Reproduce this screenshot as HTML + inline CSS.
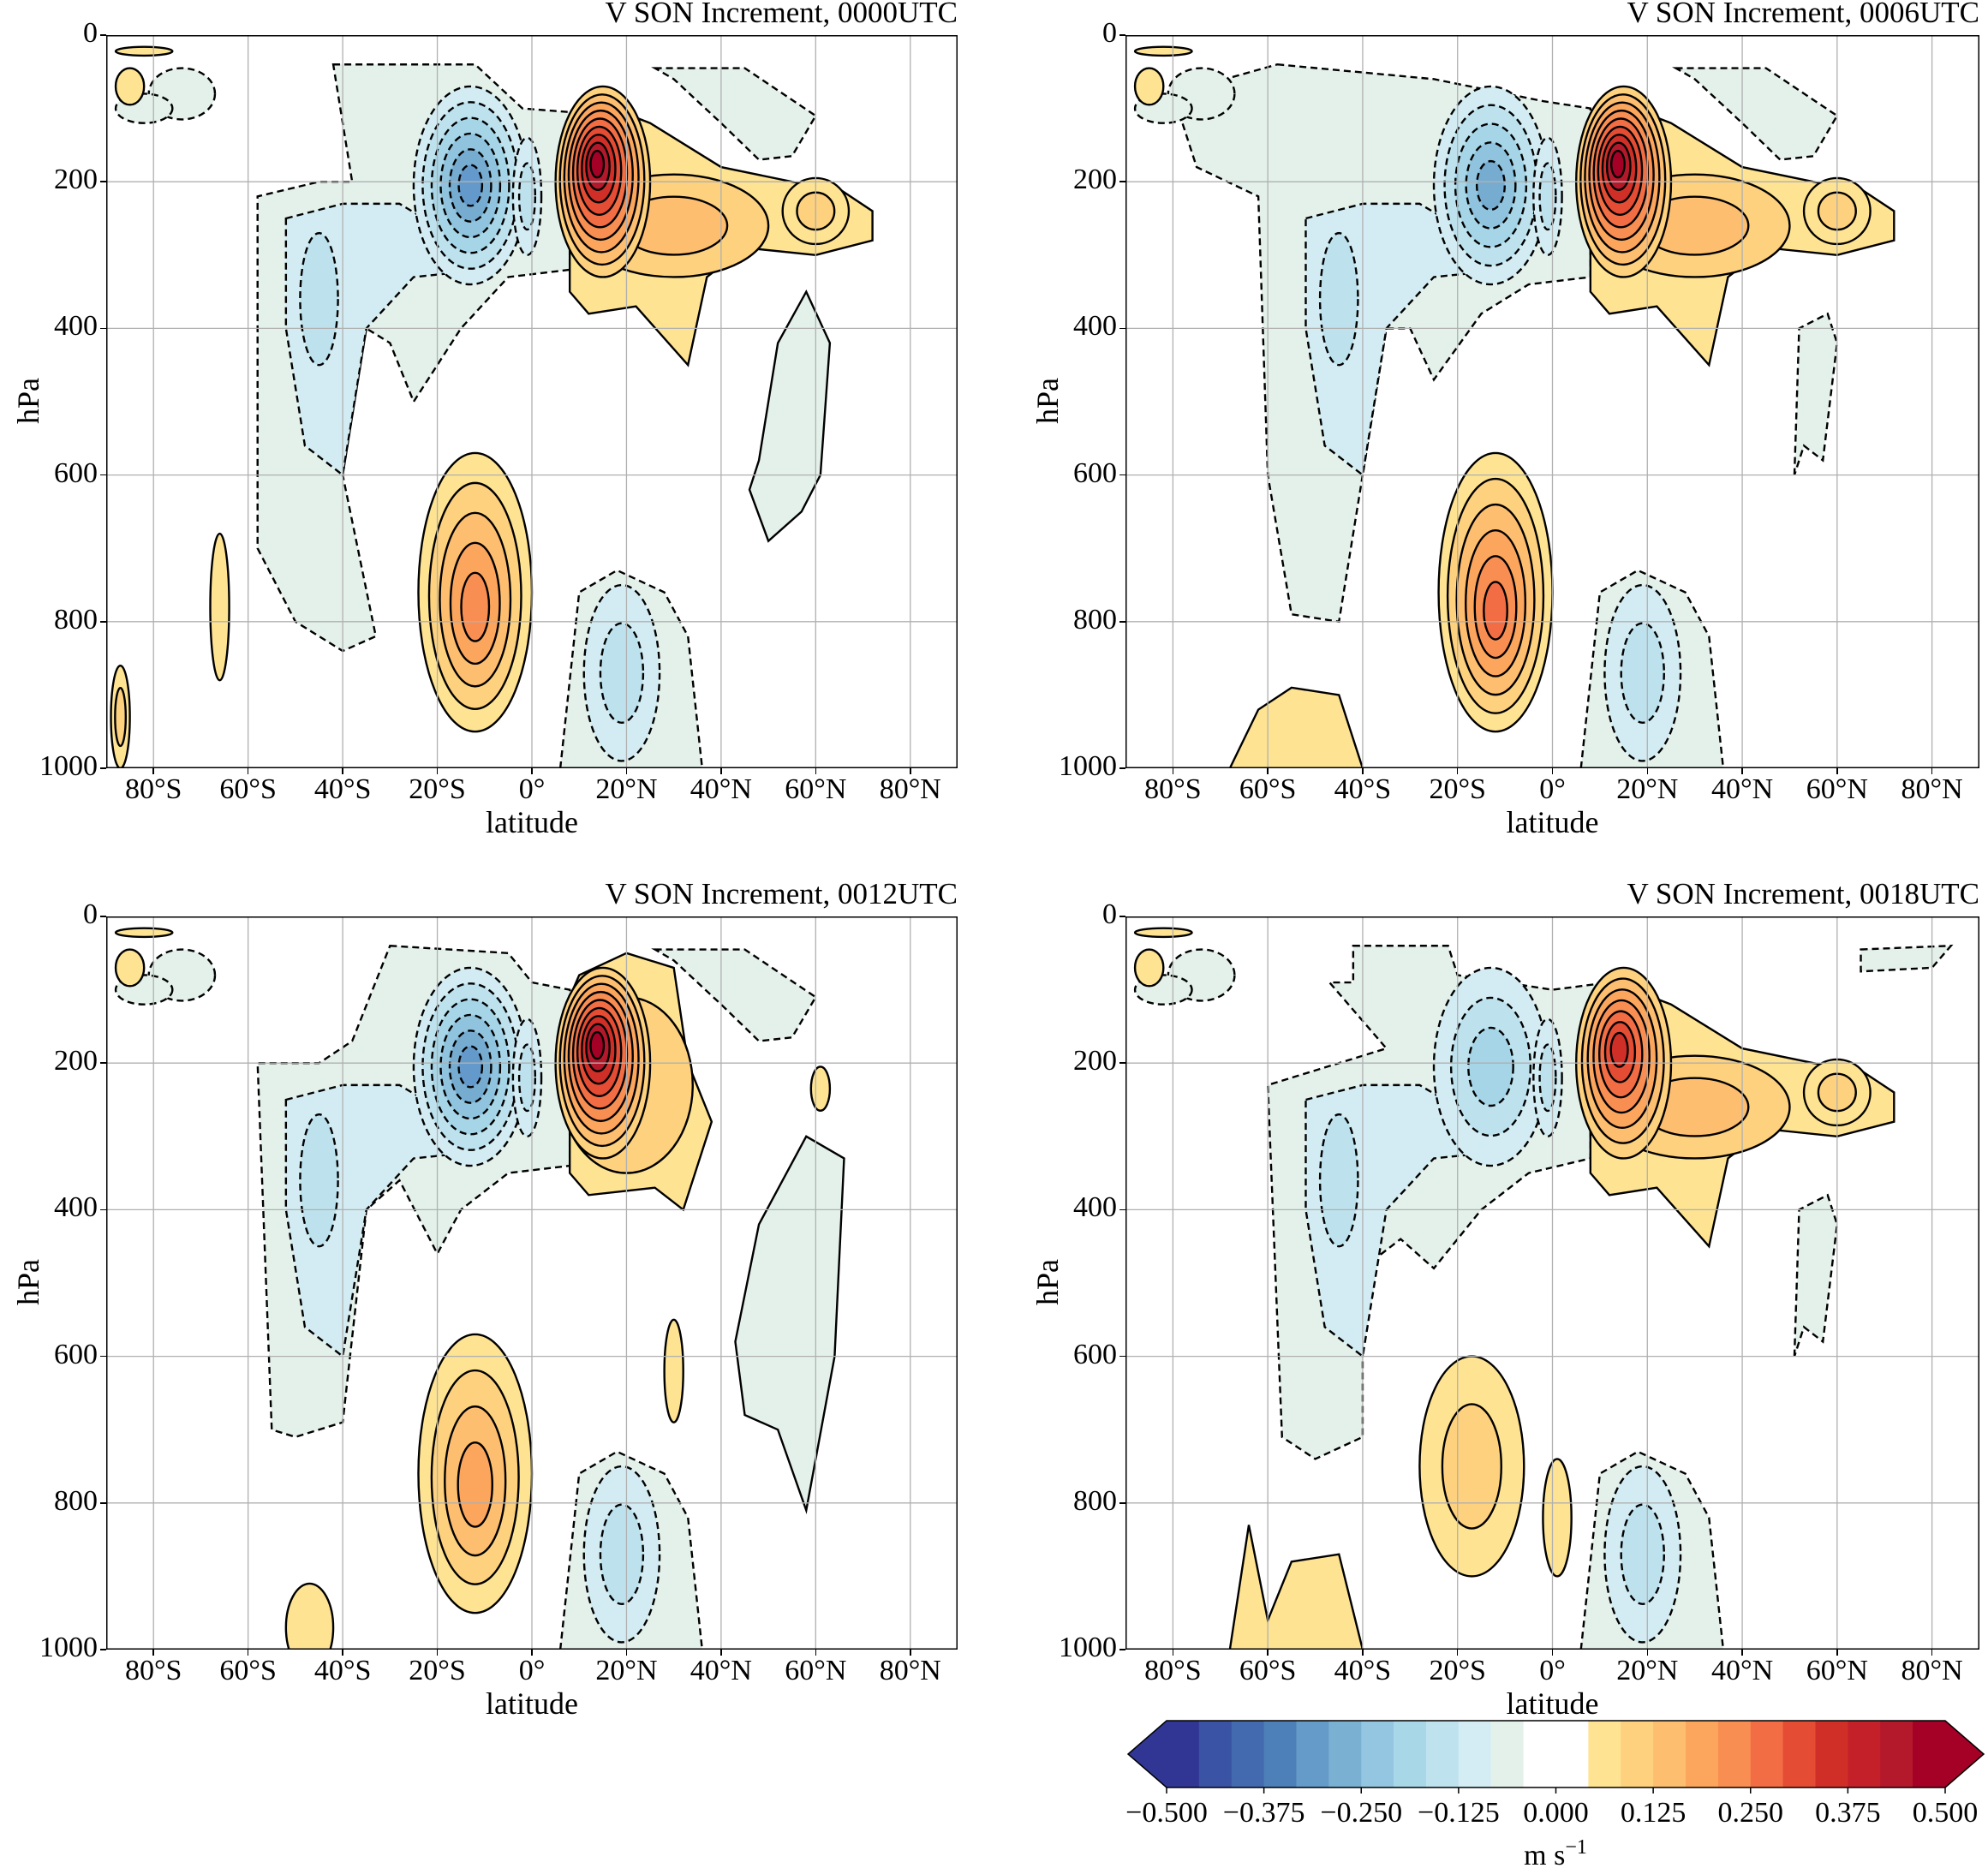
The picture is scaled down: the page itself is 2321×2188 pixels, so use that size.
<!DOCTYPE html>
<html><head><meta charset="utf-8"><style>
body{margin:0;background:#fff;width:2321px;height:2188px;position:relative;overflow:hidden;font-family:"Liberation Serif",serif;}
.t{position:absolute;color:#000;white-space:nowrap;}
</style></head><body>
<div id="root"></div>
<script>
const NEG=['#e3f1ea','#d3ecf3','#bde2ee','#a6d5e7','#90c3dd','#77acd1','#649acb','#4f7fb8','#4268ac'];
const POS=['#fee393','#fdd17e','#fdbe70','#fca55d','#f98e52','#f26d44','#e44c33','#d02f27','#b3182b','#a50026'];
const panels=[
 {x:124,y:41,w:994,h:856,title:'V SON Increment, 0000UTC',v:0},
 {x:1314,y:41,w:997,h:856,title:'V SON Increment, 0006UTC',v:1},
 {x:124,y:1070,w:994,h:856,title:'V SON Increment, 0012UTC',v:2},
 {x:1314,y:1070,w:997,h:856,title:'V SON Increment, 0018UTC',v:3}];
function poly(pts,fill,dash){return `<path d="M${pts.map(p=>p.join(',')).join(' L')} Z" fill="${fill}" stroke="#000" stroke-width="2.4" vector-effect="non-scaling-stroke" ${dash?'stroke-dasharray="8,5"':''}/>`;}
function stack(cx,cy,rx,ry,cols,dash,dx,dy){let s='';const n=cols.length;dx=dx||0;dy=dy||0;
 for(let i=0;i<n;i++){const f=1-i/(n+0.3);s+=`<ellipse cx="${cx+dx*i}" cy="${cy+dy*i}" rx="${rx*f}" ry="${ry*f}" fill="${cols[i]}" stroke="#000" stroke-width="2.4" vector-effect="non-scaling-stroke" ${dash?'stroke-dasharray="8,5"':''}/>`;}return s;}
function common(v){
 let s='';
 let negBig=[[-42,40],[-12,40],[-2,100],[8,105],[8,320],[-5,330],[-15,400],[-25,500],[-30,420],[-35,400],[-40,600],[-33,820],[-40,840],[-50,800],[-58,700],[-58,220],[-45,200],[-38,200]];
 if(v==1)negBig=[[-58,40],[-25,60],[-2,90],[8,100],[8,330],[-5,340],[-15,380],[-25,470],[-30,400],[-35,400],[-45,800],[-55,790],[-60,600],[-62,220],[-75,180],[-80,80]];
 if(v==2)negBig=[[-30,40],[-5,50],[0,90],[8,100],[8,340],[-5,350],[-15,400],[-20,460],[-28,360],[-35,400],[-40,690],[-50,710],[-55,700],[-58,200],[-45,200],[-38,170]];
 if(v==3)negBig=[[-42,40],[-22,40],[-20,80],[0,100],[12,90],[8,120],[8,330],[-5,350],[-15,400],[-25,480],[-32,440],[-40,480],[-40,710],[-50,740],[-57,710],[-60,230],[-45,200],[-35,180],[-47,90],[-42,90]];
 s+=poly(negBig,NEG[0],true);
 s+=poly([[-52,250],[-40,230],[-28,230],[-15,280],[-5,300],[-10,320],[-25,330],[-35,400],[-40,600],[-48,560],[-52,400]],NEG[1],true);
 s+=stack(-45,360,4,90,[NEG[2]],true);
 s+=stack(-13,205,12,135,NEG.slice(1,v==3?4:(v==1?6:7)),true);
 s+=stack(-1,220,3,80,NEG.slice(1,3),true);
 let pos=[[8,110],[15,95],[25,120],[40,180],[55,200],[65,210],[72,240],[72,280],[60,300],[45,290],[37,330],[33,450],[22,370],[12,380],[8,350]];
 if(v==2)pos=[[8,110],[10,80],[20,50],[30,70],[33,200],[38,280],[32,400],[26,370],[12,380],[8,350]];
 s+=poly(pos,POS[0],false);
 if(v!=2)s+=stack(30,260,20,70,POS.slice(1,3),false);
 if(v!=2)s+=stack(60,240,7,45,POS.slice(0,2),false);
 if(v==2)s+=stack(20,230,14,120,[POS[1]],false);
 s+=stack(15,200,10,130,POS.slice(1,v==3?8:10),false,-0.15,-3);
 if(v==3){s+=stack(-17,750,11,150,POS.slice(0,2),false);s+=stack(1,820,3,80,[POS[0]],false);
   s+=poly([[-68,1000],[-64,830],[-60,960],[-55,880],[-45,870],[-40,1000]],POS[0],false);}
 else s+=stack(-12,760,12,190,POS.slice(0,v==2?4:(v==1?6:5)),false,0,5);
 if(v==1)s+=poly([[-68,1000],[-62,920],[-55,890],[-45,900],[-40,1000]],POS[0],false);
 if(v==2){s+=stack(-47,970,5,60,[POS[0]],false);s+=stack(30,620,2,70,[POS[0]],false);s+=stack(61,235,2,30,[POS[0]],false);}
 s+=poly([[6,1000],[10,760],[18,730],[28,760],[33,820],[36,1000]],NEG[0],true);
 s+=stack(19,870,8,120,NEG.slice(1,3),true);
 if(v==0)s+=poly([[48,580],[52,420],[58,350],[63,420],[61,600],[57,650],[50,690],[46,620]],NEG[0],false);
 if(v==1||v==3)s+=poly([[51,600],[52,400],[58,380],[60,420],[57,580],[53,560]],NEG[0],true);
 if(v==2)s+=poly([[43,580],[48,420],[58,300],[66,330],[64,600],[58,810],[52,700],[45,680]],NEG[0],false);
 if(v!=3)s+=poly([[26,45],[45,45],[60,110],[55,165],[48,170],[40,120],[30,60]],NEG[0],true);
 else s+=poly([[65,45],[84,40],[80,70],[65,75]],NEG[0],true);
 s+=stack(-74,80,7,35,[NEG[0]],true)+stack(-82,100,6,20,[NEG[0]],true);
 s+=stack(-82,22,6,6,[POS[0]],false)+stack(-85,70,3,25,[POS[0]],false);
 if(v==0){s+=stack(-87,930,2,70,POS.slice(0,2),false);s+=stack(-66,780,2,100,[POS[0]],false);}
 return s;
}
let h='';
for(const P of panels){
 h+=`<svg style="position:absolute;left:${P.x}px;top:${P.y}px" width="${P.w}" height="${P.h}"><svg width="${P.w}" height="${P.h}" viewBox="-90 0 180 1000" preserveAspectRatio="none">${common(P.v)}`;
 for(let l=-80;l<=80;l+=20)h+=`<line x1="${l}" y1="0" x2="${l}" y2="1000" stroke="#b0b0b0" stroke-width="1.3" vector-effect="non-scaling-stroke"/>`;
 for(let p=200;p<=800;p+=200)h+=`<line x1="-90" y1="${p}" x2="90" y2="${p}" stroke="#b0b0b0" stroke-width="1.3" vector-effect="non-scaling-stroke"/>`;
 h+=`</svg><rect x="0.75" y="0.75" width="${P.w-1.5}" height="${P.h-1.5}" fill="none" stroke="#000" stroke-width="1.5"/></svg>`;
 h+=`<div class="t" style="right:${2321-(P.x+P.w)}px;top:${P.y-46}px;font-size:35px">${P.title}</div>`;
 const labs=['80°S','60°S','40°S','20°S','0°','20°N','40°N','60°N','80°N'];
 labs.forEach((t,i)=>{const x=P.x+P.w*((i*20+10)/180);h+=`<div class="t" style="left:${x-70}px;width:140px;text-align:center;top:${P.y+P.h+6}px;font-size:34px">${t}</div>`;
  h+=`<div style="position:absolute;left:${x-0.75}px;top:${P.y+P.h}px;width:1.5px;height:7px;background:#000"></div>`;});
 [0,200,400,600,800,1000].forEach(p=>{const y=P.y+P.h*p/1000;h+=`<div class="t" style="right:${2321-P.x+10}px;top:${y-21}px;font-size:34px">${p}</div><div style="position:absolute;left:${P.x-7}px;top:${y-0.75}px;width:7px;height:1.5px;background:#000"></div>`;});
 h+=`<div class="t" style="left:${P.x+P.w/2-100}px;width:200px;text-align:center;top:${P.y+P.h+42}px;font-size:36px">latitude</div>`;
 h+=`<div class="t" style="left:${P.x-118}px;top:${P.y+P.h/2-22}px;font-size:36px;transform:rotate(-90deg)">hPa</div>`;
}
const x0=1362,x1=2271,y0=2009,y1=2087;
let cb=`<svg style="position:absolute;left:0;top:0" width="2321" height="2188">`;
cb+=`<polygon points="${x0},${y0} 1317,${(y0+y1)/2} ${x0},${y1}" fill="#313695"/><polygon points="${x1},${y0} 2316,${(y0+y1)/2} ${x1},${y1}" fill="#a50026"/>`;
const sw=(x1-x0)/24;
const sc2=['#313695','#3a53a4','#4369ae','#4d80b8','#659bc8','#7ab0d2','#94c6e1','#a8d8e8','#bfe3ee','#d4edf4','#e3f1ea','#ffffff','#ffffff','#fee393','#fdd17e','#fdbe70','#fca55d','#f98e52','#f26d44','#e44c33','#d02f27','#c3202a','#b3182b','#a50026'];
for(let i=0;i<24;i++)cb+=`<rect x="${x0+i*sw}" y="${y0}" width="${sw+0.6}" height="${y1-y0}" fill="${sc2[i]}"/>`;
cb+=`<polygon points="${x0},${y0} ${x1},${y0} 2316,${(y0+y1)/2} ${x1},${y1} ${x0},${y1} 1317,${(y0+y1)/2}" fill="none" stroke="#000" stroke-width="1.5"/>`;
const tl=['−0.500','−0.375','−0.250','−0.125','0.000','0.125','0.250','0.375','0.500'];
tl.forEach((t,i)=>{const x=x0+i*(x1-x0)/8;cb+=`<line x1="${x}" y1="${y1}" x2="${x}" y2="${y1+7}" stroke="#000" stroke-width="1.5"/><text x="${x}" y="${y1+40}" font-size="34" text-anchor="middle" font-family="Liberation Serif,serif">${t}</text>`;});
cb+=`<text x="1816" y="2177" font-size="34" text-anchor="middle" font-family="Liberation Serif,serif">m s<tspan dy="-13" font-size="24">−1</tspan></text></svg>`;
document.getElementById('root').innerHTML=h+cb;
</script>
</body></html>
